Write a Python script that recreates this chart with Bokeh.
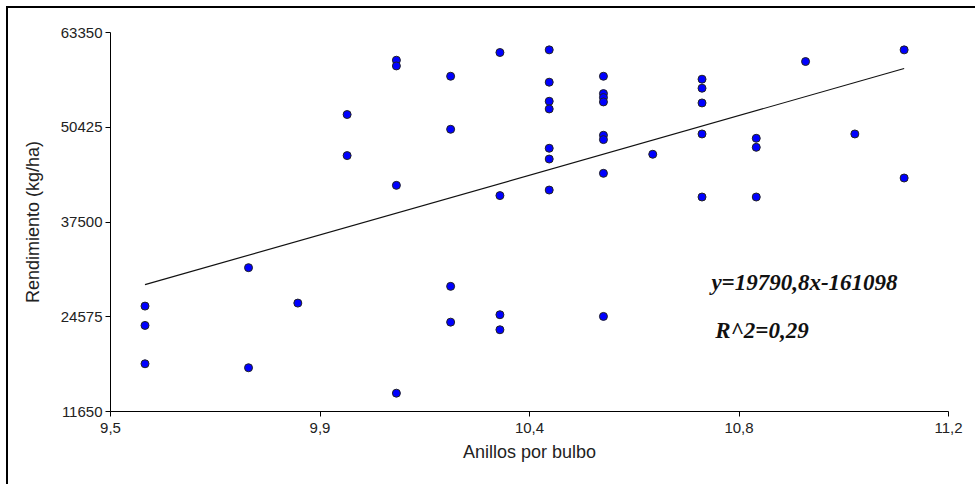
from bokeh.plotting import figure
from bokeh.models import Range1d, FixedTicker, Label
from bokeh.embed import file_html
from bokeh.resources import INLINE

# ---- data ----
anillos = [9.57, 9.57, 9.57,
           9.78, 9.78,
           9.88,
           9.98, 9.98,
           10.08, 10.08, 10.08, 10.08,
           10.19, 10.19, 10.19, 10.19,
           10.29, 10.29, 10.29, 10.29,
           10.39, 10.39, 10.39, 10.39, 10.39, 10.39, 10.39,
           10.50, 10.50, 10.50, 10.50, 10.50, 10.50, 10.50, 10.50,
           10.60,
           10.70, 10.70, 10.70, 10.70, 10.70,
           10.81, 10.81, 10.81,
           10.91,
           11.01,
           11.11, 11.11]
rendimiento = [26030, 23390, 18160,
               31270, 17620,
               26440,
               52160, 46560,
               59570, 58790, 42500, 14150,
               57380, 50150, 28720, 23840,
               60620, 41100, 24850, 22800,
               60980, 56570, 53970, 52920, 47560, 46090, 41860,
               57380, 55020, 54480, 53880, 49330, 48740, 44140, 24620,
               46740,
               56980, 55750, 53740, 49510, 40910,
               48920, 47690, 40910,
               59390,
               49510,
               60980, 43500]

fit_x = [9.57, 11.11]
fit_y = [28950, 58435]

x_ticks = [9.5, 9.925, 10.35, 10.775, 11.2]
x_tick_labels = ["9,5", "9,9", "10,4", "10,8", "11,2"]
y_ticks = [11650, 24575, 37500, 50425, 63350]
y_tick_labels = ["11650", "24575", "37500", "50425", "63350"]

equation_text = "y=19790,8x-161098"
r2_text = "R^2=0,29"

# ---- figure ----
p = figure(width=969, height=478, output_backend="svg", toolbar_location=None,
           x_range=Range1d(9.5, 11.2), y_range=Range1d(11650, 63350),
           min_border_left=102, min_border_right=29, min_border_top=24,
           min_border_bottom=75)
p.styles = {"border-left": "2px solid #000", "border-top": "2px solid #000",
            "margin-left": "6px", "margin-top": "6px"}
p.outline_line_color = None
p.grid.visible = False
p.background_fill_color = "white"
p.border_fill_color = "white"

FONT = "Liberation Sans"
for ax in (p.xaxis[0], p.yaxis[0]):
    ax.axis_line_color = "#000"
    ax.axis_line_width = 1
    ax.major_tick_line_color = "#000"
    ax.major_tick_out = 5
    ax.major_tick_in = 0
    ax.minor_tick_out = 0
    ax.minor_tick_in = 0
    ax.major_label_text_font = FONT
    ax.major_label_text_font_size = "15px"
    ax.major_label_text_color = "#222"
    ax.axis_label_text_font = FONT
    ax.axis_label_text_font_size = "18px"
    ax.axis_label_text_font_style = "normal"
    ax.axis_label_text_color = "#222"

p.xaxis.ticker = FixedTicker(ticks=x_ticks)
p.xaxis.major_label_overrides = dict(zip(x_ticks, x_tick_labels))
p.yaxis.ticker = FixedTicker(ticks=y_ticks)
p.yaxis.major_label_overrides = dict(zip(y_ticks, y_tick_labels))
p.xaxis.axis_label = "Anillos por bulbo"
p.yaxis.axis_label = "Rendimiento (kg/ha)"
p.xaxis.major_label_standoff = 6
p.xaxis.axis_label_standoff = 6
p.yaxis.major_label_standoff = 3
p.yaxis.axis_label_standoff = 15

p.line(fit_x, fit_y, line_color="#111", line_width=1.2)
p.scatter(anillos, rendimiento, size=8, fill_color="#0000FF",
          line_color="#222", line_width=1)

p.add_layout(Label(x=10.719, y=29261, text=equation_text,
                   text_font="Liberation Serif", text_font_size="23px",
                   text_font_style="bold italic", text_color="#111",
                   text_baseline="alphabetic", text_align="left"))
p.add_layout(Label(x=10.727, y=22708, text=r2_text,
                   text_font="Liberation Serif", text_font_size="23px",
                   text_font_style="bold italic", text_color="#111",
                   text_baseline="alphabetic", text_align="left"))

open("out.html", "w").write(file_html(p, INLINE))
